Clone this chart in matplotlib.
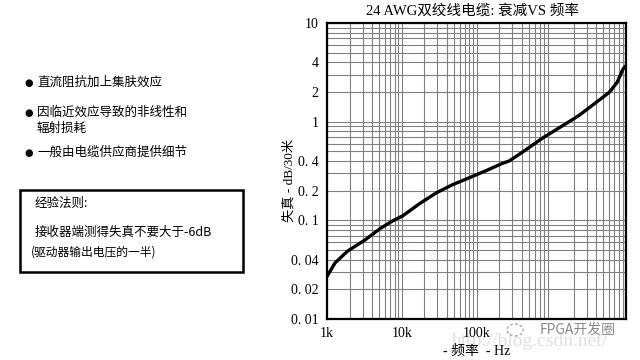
import matplotlib
matplotlib.use("Agg")
import matplotlib.pyplot as plt
from matplotlib.ticker import FixedLocator, LogLocator, NullFormatter
from matplotlib.patches import Rectangle, Ellipse

CJK = ['Noto Sans CJK SC', 'DejaVu Sans']
SERIF = ['Liberation Serif', 'Noto Sans CJK SC']

title = "24 AWG双绞线电缆: 衰减VS 频率"
xlabel = "- 频率  - Hz"
ylabel = "失真 - dB/30米"

freq_hz = [1e3, 1.28e3, 1.63e3, 1.9e3, 3.2e3, 5.2e3, 7.6e3, 1.03e4, 1.74e4, 2.9e4,
           4.8e4, 8.0e4, 1.36e5, 2.2e5, 2.75e5, 4.1e5, 7.6e5, 1.85e6, 2.36e6,
           4.0e6, 6.0e6, 7.6e6, 9.1e6, 1.0e7]
atten_db = [0.027, 0.037, 0.044, 0.049, 0.063, 0.083, 0.099, 0.111, 0.148, 0.19,
            0.23, 0.27, 0.32, 0.377, 0.40, 0.49, 0.68, 1.03, 1.16,
            1.57, 1.99, 2.5, 3.4, 3.7]

xticks = [1e3, 1e4, 1e5]
xticklabels = ["1k", "10k", "100k"]
yticks = [0.01, 0.02, 0.04, 0.1, 0.2, 0.4, 1, 2, 4, 10]
yticklabels = ["0. 01", "0. 02", "0. 04", "0. 1", "0. 2", "0. 4", "1", "2", "4", "10"]

bullets = ["直流阻抗加上集肤效应", "因临近效应导致的非线性和\n辐射损耗", "一般由电缆供应商提供细节"]
box_title = "经验法则:"
box_lines = ["接收器端测得失真不要大于-6dB", "(驱动器输出电压的一半)"]

fig = plt.figure(figsize=(6.4, 3.6), dpi=100)
fig.patch.set_facecolor("white")
ax = fig.add_axes([327/640, 1-319/360, (626-327)/640, (319-23)/360])
ax.set_xscale("log")
ax.set_yscale("log")
ax.set_xlim(1e3, 1e7)
ax.set_ylim(0.01, 10)
ax.plot(freq_hz, atten_db, color="black", lw=2.4, solid_capstyle="round",
        solid_joinstyle="round", zorder=3)

ax.xaxis.set_major_locator(FixedLocator(xticks))
ax.set_xticklabels(xticklabels)
ax.xaxis.set_minor_locator(LogLocator(base=10, subs=range(2, 10), numticks=20))
ax.xaxis.set_minor_formatter(NullFormatter())
ax.yaxis.set_major_locator(FixedLocator(yticks))
ax.set_yticklabels(yticklabels)
ax.yaxis.set_minor_locator(LogLocator(base=10, subs=range(1, 10), numticks=20))
ax.yaxis.set_minor_formatter(NullFormatter())
ax.grid(True, which="both", color="#808080", lw=0.8)
ax.tick_params(which="both", length=0, pad=6, labelsize=10)
for lab in ax.get_xticklabels() + ax.get_yticklabels():
    lab.set_fontfamily(SERIF)
for sp in ax.spines.values():
    sp.set_linewidth(1.6)
    sp.set_color("black")

fig.text(472/640, 1-11/360, title, ha="center", va="center", fontsize=10.5, family=SERIF)
fig.text(289/640, 1-180/360, ylabel, ha="center", va="center", rotation=90, fontsize=9.5, family=SERIF)
fig.text(477/640, 1-351/360, xlabel, ha="center", va="center", fontsize=10, family=SERIF)

# watermark
fig.text(530/640, 1-341/360, "http://blog.csdn.net/", ha="center", va="center", fontsize=14,
         family=SERIF, color="#dedede", zorder=0)
fig.text(578/640, 1-330/360, "FPGA开发圈", ha="center", va="center", fontsize=10,
         family=CJK, color="#8a8a8a")
fig.patches.append(Ellipse((515/640, 1-330/360), 16/640, 12/360, transform=fig.transFigure,
                           fill=False, ec="#a8a8a8", lw=1.0, ls=(0, (2, 1.5))))

# bullets
ys = [83, 113, 153]
for y, t in zip(ys, bullets):
    fig.text(29/640, 1-y/360, "●", ha="center", va="center", fontsize=7, family=['DejaVu Sans'])
    fig.text(37/640, 1-(y-7)/360, t, ha="left", va="top", fontsize=9, family=CJK, linespacing=1.25)

fig.patches.append(Rectangle((20/640, 1-272/360), (243-20)/640, (272-190)/360,
                             transform=fig.transFigure, fill=False, ec="black", lw=1.8))
fig.text(35/640, 1-203/360, box_title, ha="left", va="center", fontsize=9, family=CJK)
fig.text(35/640, 1-232/360, box_lines[0], ha="left", va="center", fontsize=9, family=CJK)
fig.text(31/640, 1-252/360, box_lines[1], ha="left", va="center", fontsize=8.5, family=CJK)

fig.savefig("out.png", dpi=100)
